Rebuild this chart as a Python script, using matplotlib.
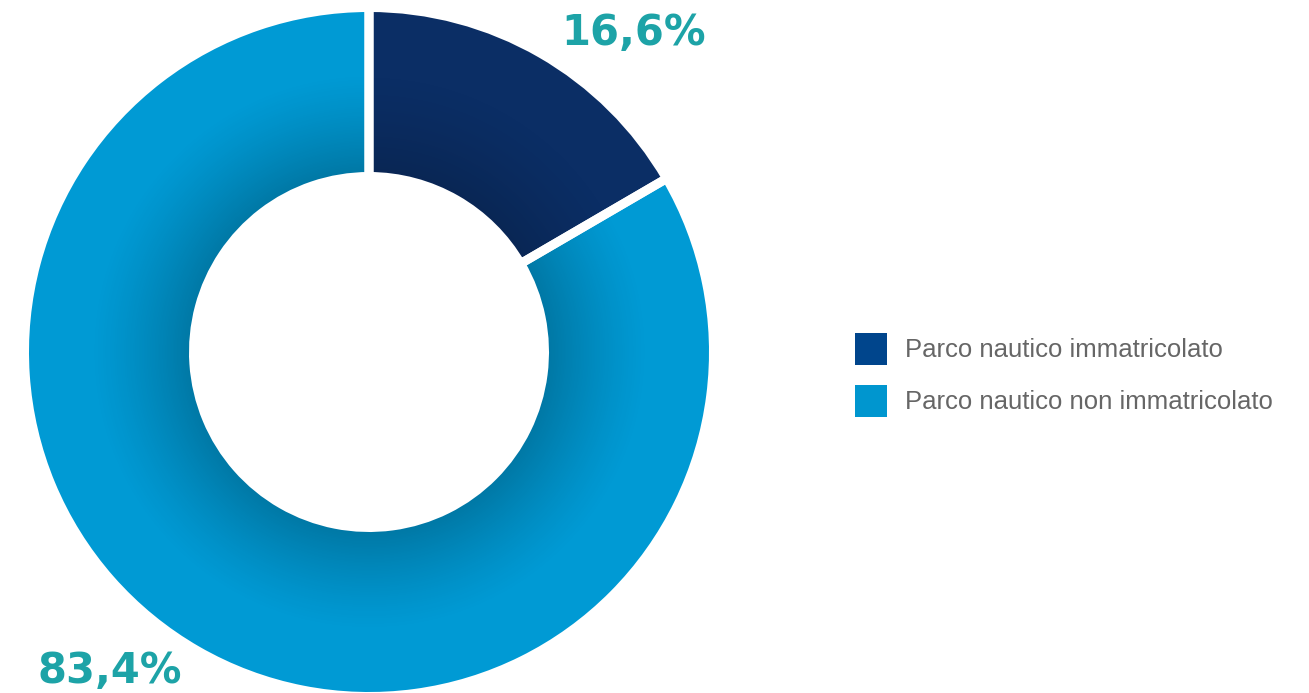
import numpy as np
import matplotlib
matplotlib.use("Agg")
import matplotlib.pyplot as plt
from matplotlib.patches import Patch

# Shares of the Italian boat fleet
categories = ["Parco nautico immatricolato", "Parco nautico non immatricolato"]
shares = [16.6, 83.4]
slice_colors = ["#0b2e65", "#009ad4"]
legend_colors = ["#00458c", "#0096cf"]
label_color = "#1da3a7"

W, H = 1309, 693
fig = plt.figure(figsize=(W / 100, H / 100), dpi=100)
ax = fig.add_axes([0, 0, 1, 1])

cx, cy = 369, H - 352
r_out, r_in = 340, 180
gap_px = 9
half = gap_px / 2
lw_pt = gap_px * 72 / 100

# ring slices (no edges; separators are drawn on top later)
R = r_out + half
wedges, _ = ax.pie(shares, colors=slice_colors, startangle=90, counterclock=False,
                   center=(cx, cy), radius=R,
                   wedgeprops=dict(width=R - (r_in - half), linewidth=0))

# radial shading that darkens the ring towards the hole
n = 700
xs = np.linspace(cx - R, cx + R, n)
ys = np.linspace(cy - R, cy + R, n)
X, Y = np.meshgrid(xs, ys)
rr = np.hypot(X - cx, Y - cy)
t = np.clip(1 - (rr - r_in) / 100.0, 0, 1)
for w, strength in zip(wedges, [0.16, 0.22]):
    shade = np.zeros((n, n, 4))
    shade[..., 3] = strength * t ** 1.3
    im = ax.imshow(shade, extent=(cx - R, cx + R, cy - R, cy + R), origin="lower",
                   interpolation="bilinear", zorder=2)
    im.set_clip_path(w)

# white separators between slices
sep, _ = ax.pie(shares, colors=["none", "none"], startangle=90, counterclock=False,
                center=(cx, cy), radius=R,
                wedgeprops=dict(width=R - (r_in - half), linewidth=lw_pt,
                                edgecolor="white", facecolor="none", zorder=3))

ax.set_xlim(0, W)
ax.set_ylim(0, H)
ax.set_aspect("auto")
ax.axis("off")

# percentage labels
fmt = [f"{v:.1f}".replace(".", ",") + "%" for v in shares]
ax.text(634, H - 33, fmt[0], ha="center", va="center", fontsize=30,
        fontweight="bold", color=label_color, family="DejaVu Sans", zorder=5)
ax.text(110, H - 671, fmt[1], ha="center", va="center", fontsize=30,
        fontweight="bold", color=label_color, family="DejaVu Sans", zorder=5)

# legend
handles = [Patch(facecolor=c, edgecolor="none") for c in legend_colors]
fs = 18.5
fs_px = fs * 100 / 72
hh = (32 / fs_px - 0.245) / 0.65
leg = fig.legend(handles, categories, loc="upper left",
                 bbox_to_anchor=(855 / W, 1 - 333 / H), bbox_transform=fig.transFigure,
                 frameon=False, borderpad=0, borderaxespad=0,
                 handlelength=32 / fs_px, handleheight=hh,
                 handletextpad=18 / fs_px, labelspacing=(52 - 32) / fs_px,
                 prop=dict(family="Liberation Sans", size=fs))
for txt in leg.get_texts():
    txt.set_color("#666666")

fig.savefig("out.png", dpi=100, facecolor="white")
